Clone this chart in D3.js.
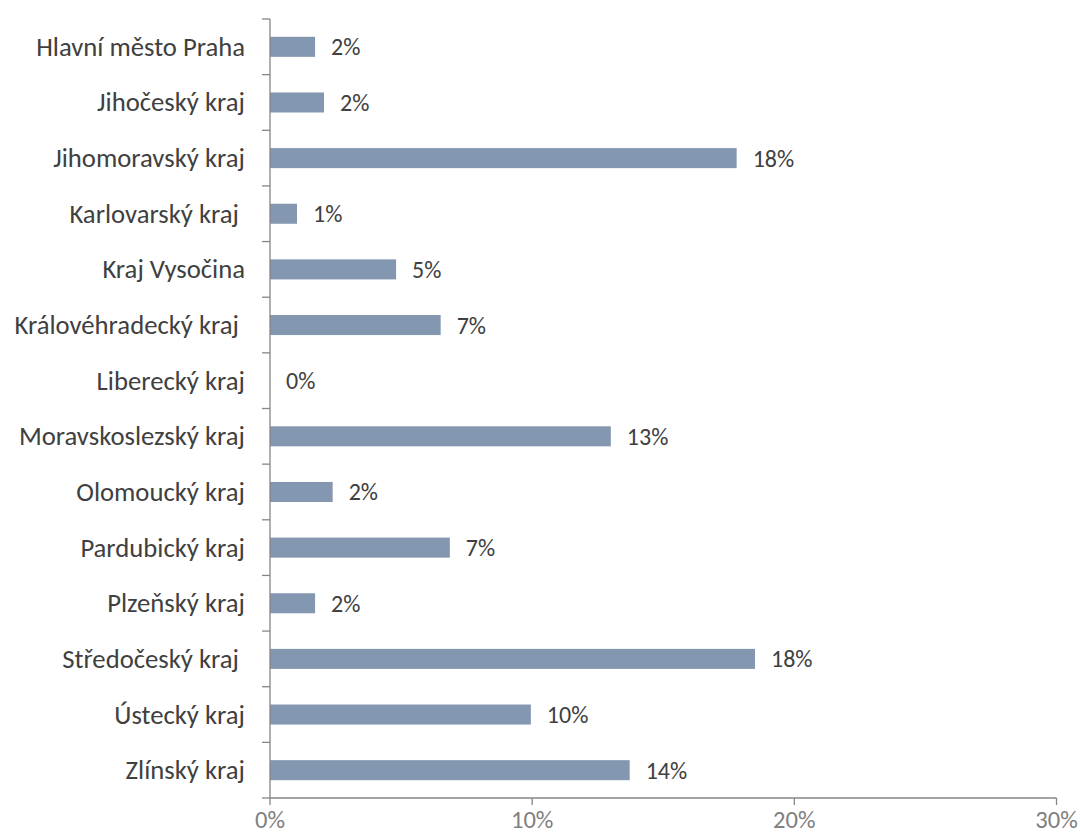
<!DOCTYPE html>
<html>
<head>
<meta charset="utf-8">
<script src="https://cdn.jsdelivr.net/npm/d3@7"></script>
<style>
  html, body { margin: 0; padding: 0; background: #fff; }
  svg text { font-family: Carlito, Calibri, Lato, "Open Sans", sans-serif; white-space: pre; }
</style>
</head>
<body>
<svg id="chart" width="1080" height="837"></svg>
<script>
const categories = [
  "Hlavní město Praha", "Jihočeský kraj", "Jihomoravský kraj", "Karlovarský kraj ",
  "Kraj Vysočina", "Královéhradecký kraj ", "Liberecký kraj", "Moravskoslezský kraj",
  "Olomoucký kraj", "Pardubický kraj", "Plzeňský kraj", "Středočeský kraj ",
  "Ústecký kraj", "Zlínský kraj"
];
const values = [0.0172, 0.0206, 0.178, 0.0103, 0.0481, 0.0651, 0.0, 0.130,
                0.0239, 0.0686, 0.0172, 0.185, 0.0995, 0.1372];
const valueLabels = ["2%", "2%", "18%", "1%", "5%", "7%", "0%", "13%", "2%", "7%", "2%", "18%", "10%", "14%"];
const xTicks = [0, 0.1, 0.2, 0.3];
const xTickLabels = ["0%", "10%", "20%", "30%"];

(function () {
const svg = d3.select("#chart");
const mLeft = 270, mRight = 1056.5, mTop = 19, mBottom = 798;

const x = d3.scaleLinear().domain([0, 0.3]).range([mLeft, mRight]);
const y = d3.scaleBand().domain(d3.range(categories.length)).range([mTop, mBottom]).paddingInner(0.64).paddingOuter(0.32);

const axisColor = "#868686";

// bars
svg.append("g").selectAll("rect").data(values).join("rect")
  .attr("x", x(0))
  .attr("y", (d, i) => y(i))
  .attr("width", d => x(d) - x(0))
  .attr("height", y.bandwidth())
  .attr("fill", "#8497B0");

// y axis line + band ticks
const gy = svg.append("g");
gy.append("line").attr("x1", mLeft).attr("x2", mLeft).attr("y1", mTop).attr("y2", mBottom)
  .attr("stroke", axisColor).attr("stroke-width", 1.3);
const step = (mBottom - mTop) / categories.length;
gy.selectAll("line.t").data(d3.range(categories.length + 1)).join("line").attr("class", "t")
  .attr("x1", mLeft - 8).attr("x2", mLeft)
  .attr("y1", i => mTop + i * step).attr("y2", i => mTop + i * step)
  .attr("stroke", axisColor).attr("stroke-width", 1.3);

// x axis
const gx = svg.append("g");
gx.append("line").attr("x1", mLeft).attr("x2", mRight).attr("y1", mBottom).attr("y2", mBottom)
  .attr("stroke", axisColor).attr("stroke-width", 1.3);
gx.selectAll("line.t").data(xTicks).join("line").attr("class", "t")
  .attr("x1", d => x(d)).attr("x2", d => x(d)).attr("y1", mBottom).attr("y2", mBottom + 7)
  .attr("stroke", axisColor).attr("stroke-width", 1.3);
gx.selectAll("text").data(xTicks).join("text")
  .attr("x", d => x(d)).attr("y", 828)
  .attr("text-anchor", "middle")
  .attr("fill", "#808080").attr("font-size", 20)
  .text((d, i) => xTickLabels[i]);

// category labels
const catText = svg.append("g").selectAll("text").data(categories).join("text")
  .attr("x", 245)
  .attr("y", (d, i) => y(i) + y.bandwidth() / 2)
  .attr("text-anchor", "end").attr("dominant-baseline", "central")
  .attr("fill", "#404040").attr("font-size", 22)
  .text(d => d);

// fit font size so first label spans ~209px
let fs = 22;
const w0 = catText.node().getComputedTextLength();
if (w0 > 0) {
  fs = 22 * 209 / w0;
  catText.attr("font-size", fs);
  gx.selectAll("text").attr("font-size", fs * 0.92);
}

// value labels
svg.append("g").selectAll("text").data(values).join("text").attr("class", "val")
  .attr("x", d => x(d) + 16)
  .attr("y", (d, i) => y(i) + y.bandwidth() / 2)
  .attr("dominant-baseline", "central")
  .attr("fill", "#404040").attr("font-size", fs * 0.9)
  .text((d, i) => valueLabels[i]);
})();
</script>
</body>
</html>
